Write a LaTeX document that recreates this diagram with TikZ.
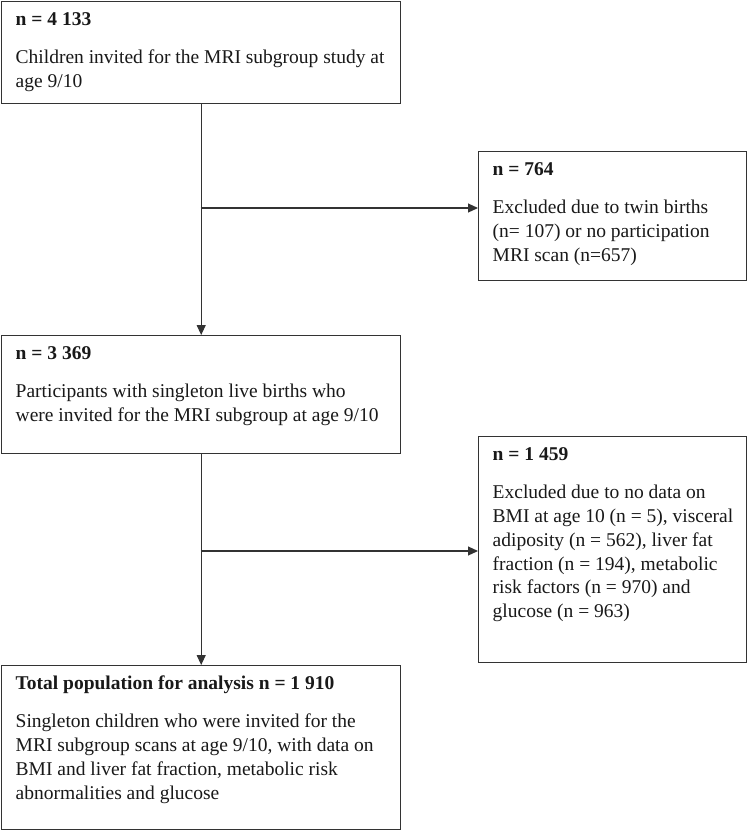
\documentclass[tikz,border=0pt]{standalone}
\usepackage{fontspec}
\setmainfont{Liberation Serif}
\usetikzlibrary{%
  arrows.meta,%
  positioning,%
  calc
}

\begin{document}
\begin{tikzpicture}
[x=1pt, y=-1pt, line width=1pt,
box/.style={rectangle, draw=black!80, line width=1.4pt, fill=white, anchor=north west, inner xsep=14pt, inner ysep=7pt, font=\fontsize{19.5pt}{23.8pt}\selectfont, text=black!90},
link/.style={draw=black!80, line width=1.1pt, -{Triangle[length=10pt,width=9pt]}}]

\useasboundingbox (0,0) rectangle (748,831);

% main column
\node[box] (invited) at (1,1) {\parbox[c][88pt][t]{371pt}{\begin{tabular}{@{}l@{}}%
\textbf{n = 4 133}\\[14.5pt]
Children invited for the MRI subgroup study at\\
age 9/10\end{tabular}}};

\node[box] (singleton) at (1,335) {\parbox[c][104pt][t]{371pt}{\begin{tabular}{@{}l@{}}%
\textbf{n = 3 369}\\[14.5pt]
Participants with singleton live births who\\
were invited for the MRI subgroup at age 9/10\end{tabular}}};

\node[box] (total) at (1,665) {\parbox[c][150pt][t]{371pt}{\begin{tabular}{@{}l@{}}%
\textbf{Total population for analysis n = 1 910}\\[14.5pt]
Singleton children who were invited for the\\
MRI subgroup scans at age 9/10, with data on\\
BMI and liver fat fraction, metabolic risk\\
abnormalities and glucose\end{tabular}}};

% exclusions
\node[box] (twins) at (478,151) {\parbox[c][115pt][t]{240pt}{\begin{tabular}{@{}l@{}}%
\textbf{n = 764}\\[14.5pt]
Excluded due to twin births\\
(n= 107) or no participation\\
MRI scan (n=657)\end{tabular}}};

\node[box] (nodata) at (478,436) {\parbox[c][212pt][t]{240pt}{\begin{tabular}{@{}l@{}}%
\textbf{n = 1 459}\\[14.5pt]
Excluded due to no data on\\
BMI at age 10 (n = 5), visceral\\
adiposity (n = 562), liver fat\\
fraction (n = 194), metabolic\\
risk factors (n = 970) and\\
glucose (n = 963)\end{tabular}}};

\coordinate (split1) at (200.5,208);
\coordinate (split2) at (200.5,551);

\draw[link] (invited.south) -- (singleton.north);
\draw[link] (split1) -- (split1 -| twins.west);
\draw[link] (singleton.south) -- (total.north);
\draw[link] (split2) -- (split2 -| nodata.west);
\end{tikzpicture}
\end{document}
